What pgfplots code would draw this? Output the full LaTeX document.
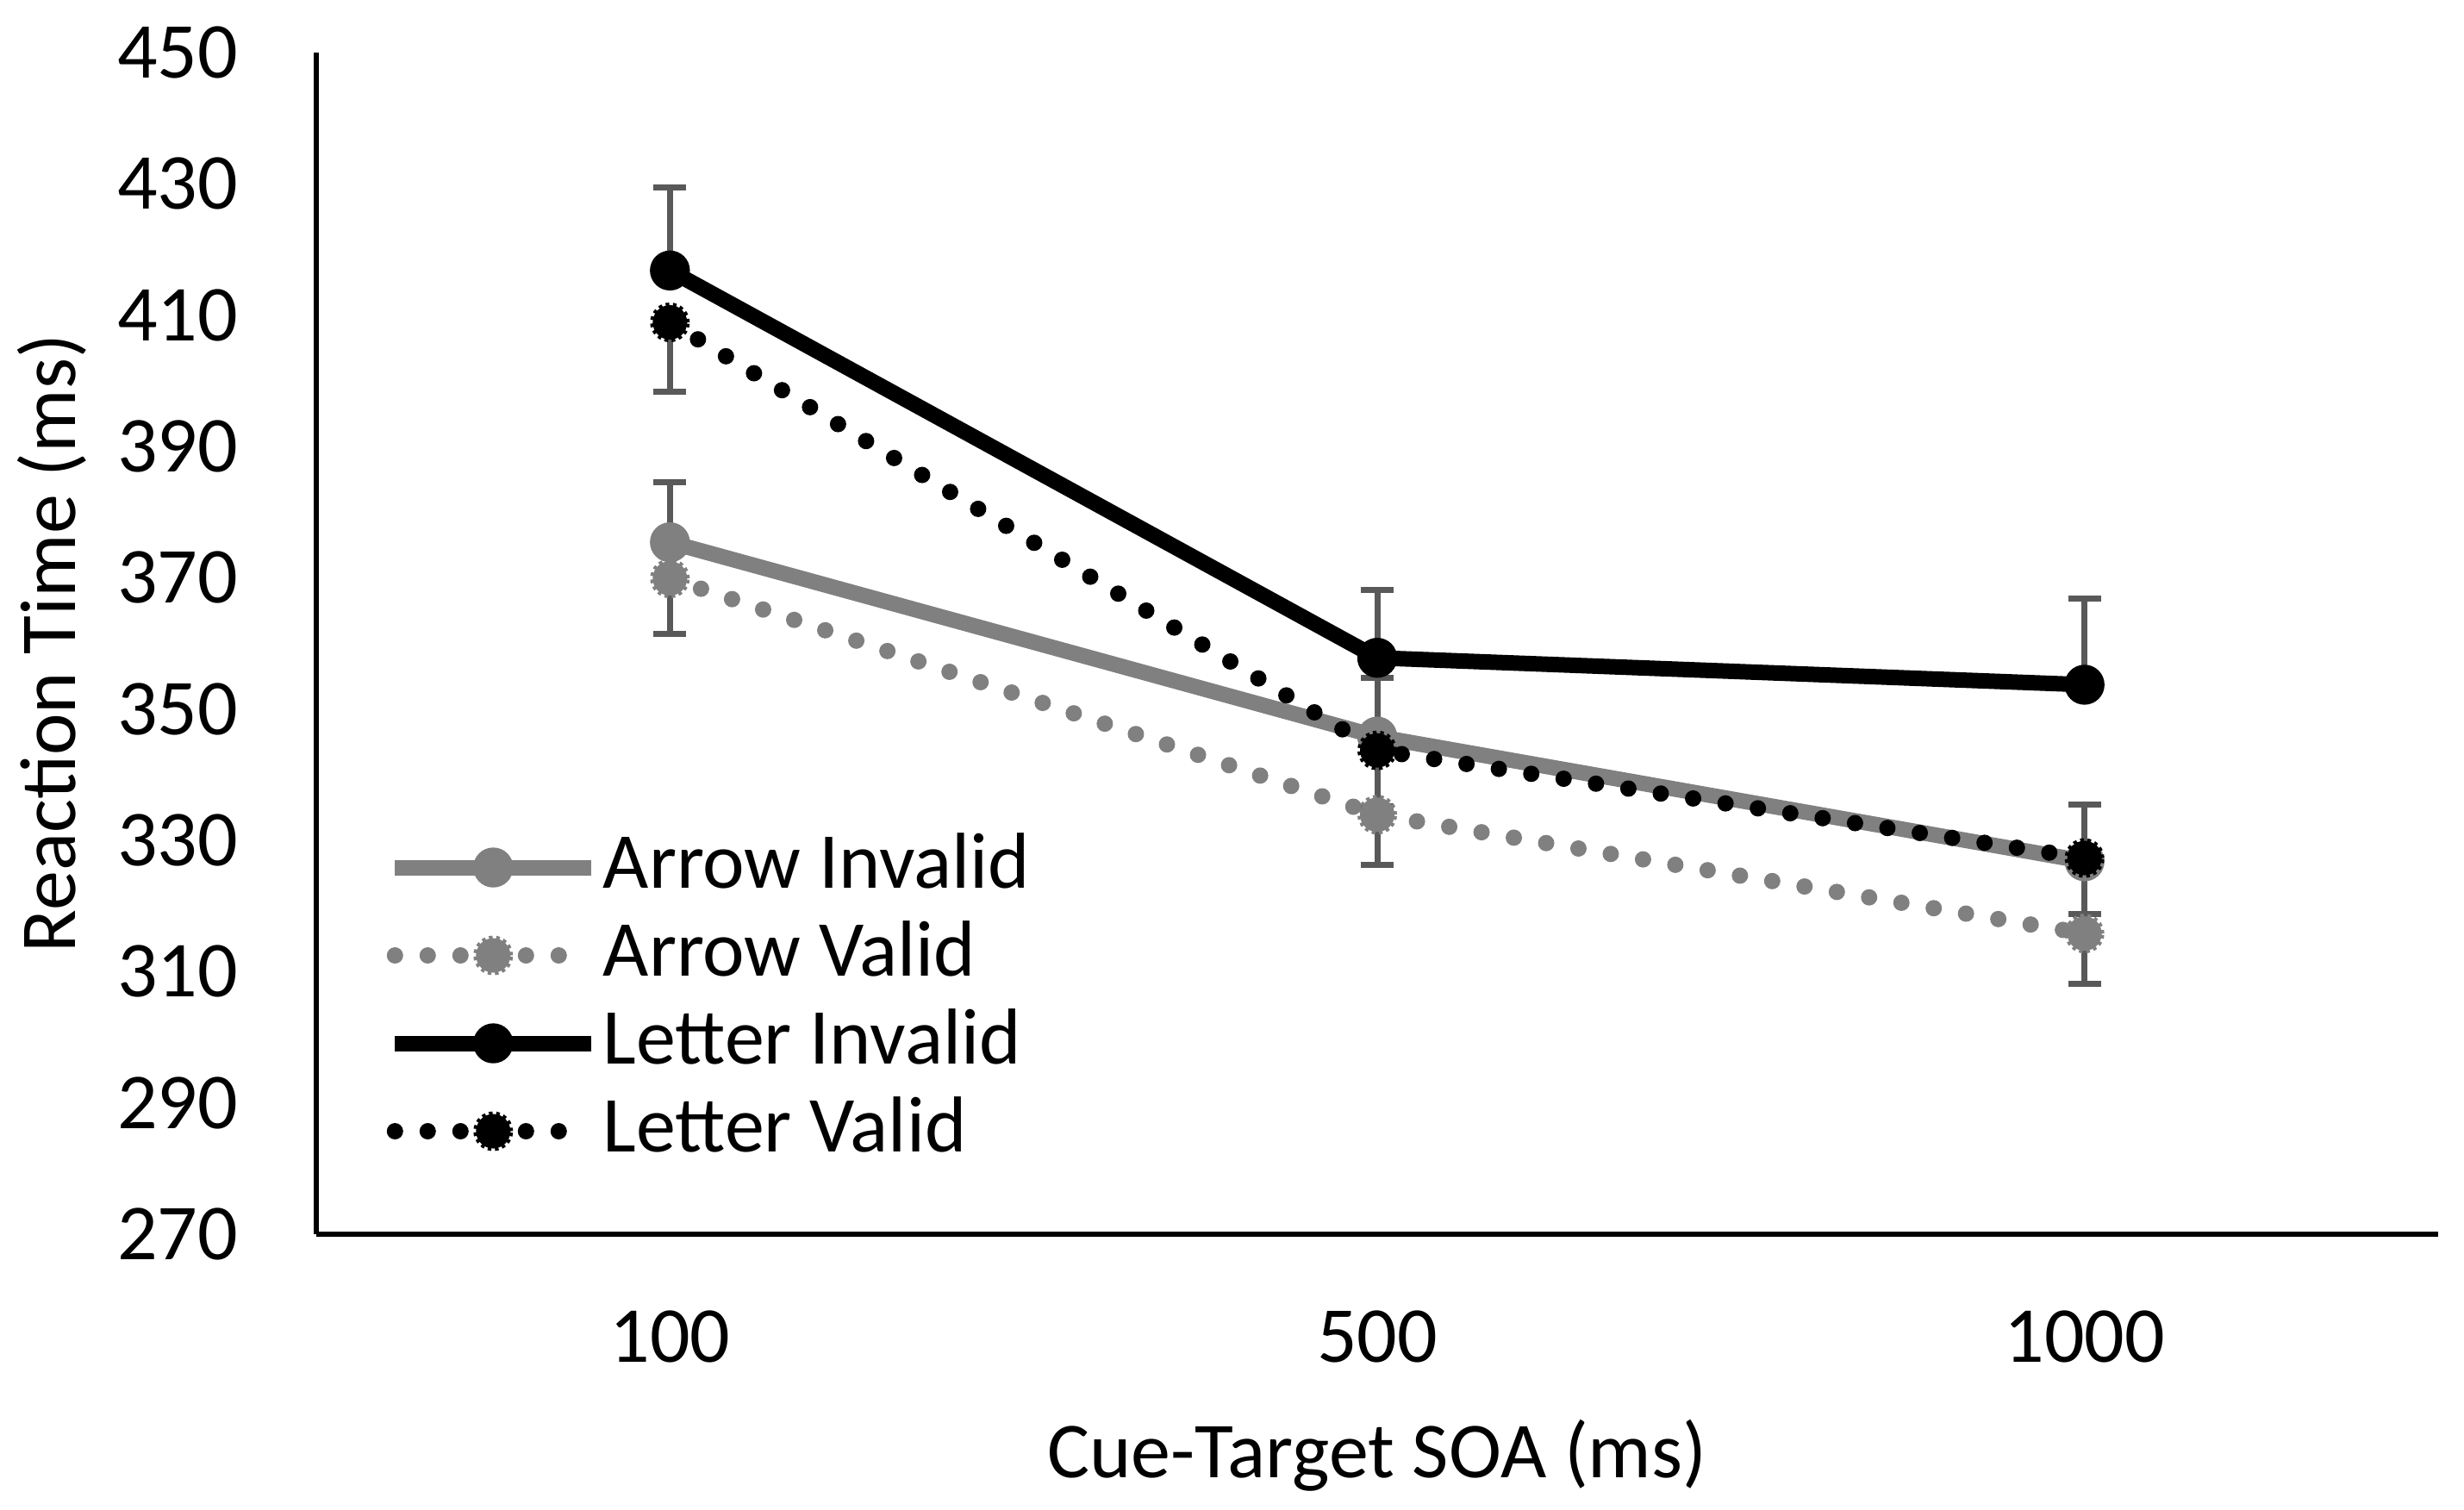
\documentclass[border=0pt]{standalone}
\usepackage{pgfplots}
\pgfplotsset{compat=1.18}
\usepackage{pgfplotstable}
\usepackage{fontspec}
\setmainfont{Carlito}
\definecolor{sgray}{HTML}{808080}
\definecolor{egray}{HTML}{595959}

\pgfplotstableread{
x y e
0 375.4 9.2
1 345.8 9.0
2 326.8 8.7
}\arrowinvalid
\pgfplotstableread{
x y e
0 369.9 8.5
1 333.9 7.7
2 315.8 7.6
}\arrowvalid
\pgfplotstableread{
x y e
0 416.8 12.6
1 357.8 10.4
2 353.7 13.1
}\letterinvalid
\pgfplotstableread{
x y e
0 408.9 10.5
1 343.7 8.5
2 327.3 8.5
}\lettervalid

\begin{document}
\begin{tikzpicture}[font=\fontsize{23}{28}\selectfont]
\begin{axis}[
  at={(0pt,0pt)}, anchor=south west,
  scale only axis,
  width=615.5pt, height=342.75pt,
  xmin=-0.5, xmax=2.5,
  ymin=270, ymax=450,
  xtick={0,1,2}, xticklabels={100,500,1000},
  ytick={270,290,...,450},
  /pgf/number format/assume math mode=true,
  axis x line*=bottom, axis y line*=left,
  axis line style={line width=1.4pt, black},
  major tick length=0pt,
  xticklabel style={inner sep=0pt, anchor=north},
  yticklabel style={inner sep=0pt, anchor=east},
  xticklabel shift=22pt,
  yticklabel shift=22.5pt,
  xlabel={Cue-Target SOA (ms)},
  ylabel={Reaction Time (ms)},
  every axis x label/.style={at={(axis description cs:0.5,0)}, anchor=base, yshift=-70.75pt},
  every axis y label/.style={at={(axis description cs:0,0.5)}, xshift=-69.75pt, rotate=90, anchor=base},
  clip=false,
  legend cell align=left,
  legend style={draw=none, fill=none, inner sep=0pt,
    at={(axis description cs:0.0329,0.343)}, anchor=north west,
    row sep=3.5pt,
    nodes={inner xsep=1pt, inner ysep=0pt, text height=17pt, text depth=5pt}},
  legend image code/.code={\draw[mark repeat=2,mark phase=2,#1] plot coordinates {(0pt,0pt) (28.5pt,0pt) (57pt,0pt)};},
  errb/.style={draw=none, mark=none, forget plot,
    error bars/.cd, y explicit, y dir=#1,
    error bar style={draw=egray, line width=1.75pt, solid},
    error mark options={rotate=90, draw=egray, line width=1.75pt, mark size=4.75pt, solid}},
]
% error bars first (beneath lines)
\addplot[errb=plus] table[x=x, y=y, y error=e] {\arrowinvalid};
\addplot[errb=minus] table[x=x, y=y, y error=e] {\arrowvalid};
\addplot[errb=plus] table[x=x, y=y, y error=e] {\letterinvalid};
\addplot[errb=minus] table[x=x, y=y, y error=e] {\lettervalid};
% series
\addplot[sgray, line width=4.5pt, mark=*, mark size=5.5pt,
  mark options={solid, fill=sgray, draw=sgray, line width=0.6pt}]
  table[x=x, y=y] {\arrowinvalid};
\addlegendentry{Arrow Invalid}
\addplot[sgray, line width=4.75pt, line cap=round, dash pattern=on 0pt off 9.5pt, mark=*, mark size=5pt,
  mark options={fill=sgray, draw=sgray, line width=1.5pt, line cap=butt, dash pattern=on 1pt off 1pt}]
  table[x=x, y=y] {\arrowvalid};
\addlegendentry{Arrow Valid}
\addplot[black, line width=4.5pt, mark=*, mark size=5.5pt,
  mark options={solid, fill=black, draw=black, line width=0.6pt}]
  table[x=x, y=y] {\letterinvalid};
\addlegendentry{Letter Invalid}
\addplot[black, line width=4.75pt, line cap=round, dash pattern=on 0pt off 9.5pt, mark=*, mark size=5pt,
  mark options={fill=black, draw=black, line width=1.5pt, line cap=butt, dash pattern=on 1pt off 1pt}]
  table[x=x, y=y] {\lettervalid};
\addlegendentry{Letter Valid}
\end{axis}
\pgfresetboundingbox
\useasboundingbox (-91.75pt,-80pt) rectangle (623pt,358pt);
\end{tikzpicture}
\end{document}
